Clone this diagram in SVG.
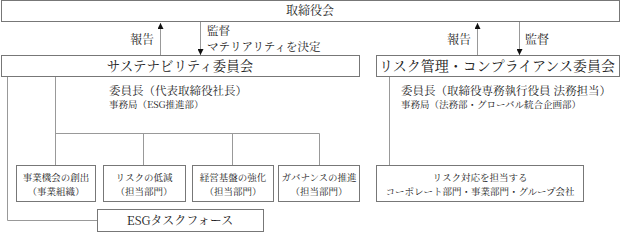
<svg xmlns="http://www.w3.org/2000/svg" width="622" height="233" viewBox="0 0 622 233">
<style>
text{font-family:"Noto Serif CJK JP","Noto Sans CJK JP","Liberation Serif",serif;fill:#222}
.box{fill:#fff;stroke:#777;stroke-width:1}
.ln{fill:none;stroke:#999;stroke-width:1}
.c{text-anchor:middle}
.s{font-size:9.5px}
</style>
<defs>
<marker id="ah" viewBox="0 0 10 10" refX="10" refY="5" markerWidth="6" markerHeight="6" orient="auto" markerUnits="userSpaceOnUse">
<path d="M0,0L10,5L0,10z" fill="#111"/>
</marker>
</defs>
<g id="connectors">
<line class="ln" x1="160.5" y1="55" x2="160.5" y2="23" marker-end="url(#ah)"/>
<line class="ln" x1="200.5" y1="22" x2="200.5" y2="55" marker-end="url(#ah)"/>
<line class="ln" x1="477.5" y1="55" x2="477.5" y2="23" marker-end="url(#ah)"/>
<line class="ln" x1="519.5" y1="22" x2="519.5" y2="55" marker-end="url(#ah)"/>
<polyline class="ln" points="7.5,77 7.5,220.5 97,220.5"/>
<line class="ln" x1="55.5" y1="77" x2="55.5" y2="165"/>
<line class="ln" x1="55.5" y1="133.5" x2="319.5" y2="133.5"/>
<line class="ln" x1="143.5" y1="133.5" x2="143.5" y2="165"/>
<line class="ln" x1="232.5" y1="133.5" x2="232.5" y2="165"/>
<line class="ln" x1="319.5" y1="133.5" x2="319.5" y2="165"/>
<line class="ln" x1="389.5" y1="77" x2="389.5" y2="165"/>
</g>
<g id="labels">
<text x="154" y="44" font-size="12" text-anchor="end">報告</text>
<text x="207" y="35" font-size="11.5">監督</text>
<text x="207" y="51" font-size="11.5">マテリアリティを決定</text>
<text x="471" y="44" font-size="12" text-anchor="end">報告</text>
<text x="525" y="44" font-size="12">監督</text>
</g>
<g id="board">
<rect class="box" x="1.5" y="0.5" width="618" height="21"/>
<text class="c" x="310" y="15" font-size="12">取締役会</text>
</g>
<g id="sustainability">
<rect class="box" x="1.5" y="55.5" width="358" height="21"/>
<text class="c" x="180" y="71" font-size="13.5">サステナビリティ委員会</text>
<text x="109" y="95" font-size="11.5">委員長（代表取締役社長）</text>
<text x="109" y="108" font-size="9.5">事務局（ESG推進部）</text>
</g>
<g id="risk">
<rect class="box" x="376.5" y="55.5" width="243" height="21"/>
<text class="c" x="497" y="71" font-size="14">リスク管理・コンプライアンス委員会</text>
<text x="401" y="95" font-size="11.5">委員長（取締役専務執行役員 法務担当）</text>
<text x="401" y="108" font-size="9.5">事務局（法務部・グローバル統合企画部）</text>
</g>
<g id="b1">
<rect class="box" x="16.5" y="165.5" width="79" height="36"/>
<text class="c s" x="56" y="181">事業機会の創出</text>
<text class="c s" x="56" y="195">（事業組織）</text>
</g>
<g id="b2">
<rect class="box" x="103.5" y="165.5" width="82" height="36"/>
<text class="c s" x="144" y="181">リスクの低減</text>
<text class="c s" x="144" y="195">（担当部門）</text>
</g>
<g id="b3">
<rect class="box" x="192.5" y="165.5" width="81" height="36"/>
<text class="c s" x="233" y="181">経営基盤の強化</text>
<text class="c s" x="233" y="195">（担当部門）</text>
</g>
<g id="b4">
<rect class="box" x="278.5" y="165.5" width="81" height="36"/>
<text class="c s" x="319" y="181">ガバナンスの推進</text>
<text class="c s" x="319" y="195">（担当部門）</text>
</g>
<g id="b5">
<rect class="box" x="376.5" y="165.5" width="207" height="36"/>
<text class="c s" x="480" y="181">リスク対応を担当する</text>
<text class="c s" x="480" y="195">コーポレート部門・事業部門・グループ会社</text>
</g>
<g id="esg">
<rect class="box" x="97.5" y="209.5" width="166" height="22"/>
<text class="c" x="180" y="225" font-size="12">ESGタスクフォース</text>
</g>
</svg>
